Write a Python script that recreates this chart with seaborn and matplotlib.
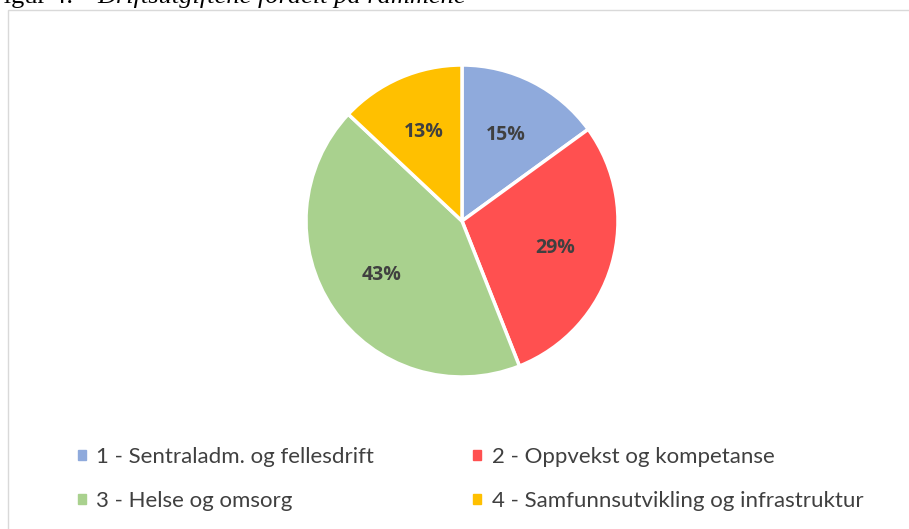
import numpy as np
import matplotlib.pyplot as plt
import matplotlib.patches as mpatches
import seaborn as sns

labels = ['1 - Sentraladm. og fellesdrift', '2 - Oppvekst og kompetanse',
          '3 - Helse og omsorg', '4 - Samfunnsutvikling og infrastruktur']
shares = [15, 29, 43, 13]
colors = ['#8FAADC', '#FF5050', '#A9D18E', '#FFC000']

sns.set_theme(style='white')
plt.rcParams['font.family'] = ['Lato', 'DejaVu Sans']

W, H = 909, 529
fig = plt.figure(figsize=(W / 100, H / 100), dpi=100)

# chart frame
fig.patches.append(mpatches.Rectangle((8 / W, -0.01), 1.0, (H - 10) / H + 0.01,
                                      transform=fig.transFigure, fill=False,
                                      edgecolor='#D9D9D9', linewidth=1))

# caption, cut at the top edge as in the source
fig.text(73 / W, 1 - 3 / H, 'Figur 4:', fontsize=19, family='Liberation Serif',
         va='baseline', ha='right', color='black')
fig.text(97 / W, 1 - 3 / H, 'Driftsutgiftene fordelt på rammene', fontsize=19,
         family='Liberation Serif', style='italic', va='baseline', ha='left', color='black')

r = 156
cx, cy = 462, 221
ax = fig.add_axes([(cx - r) / W, 1 - (cy + r) / H, 2 * r / W, 2 * r / H])
wedges, _ = ax.pie(shares, colors=colors, startangle=90, counterclock=False,
                   radius=1, wedgeprops=dict(edgecolor='white', linewidth=2.5))
ax.set_xlim(-1, 1)
ax.set_ylim(-1, 1)
ax.set_aspect('equal')

cum = np.cumsum([0] + shares)
for i, s in enumerate(shares):
    mid = 90 - 360 * (cum[i] + s / 2) / sum(shares)
    x = 0.62 * np.cos(np.radians(mid))
    y = 0.62 * np.sin(np.radians(mid))
    ax.text(x, y, f'{s}%', ha='center', va='center', fontsize=14, fontweight='bold',
            color='#404040', family=['Open Sans', 'DejaVu Sans'])

# legend fills row by row
order = [0, 2, 1, 3]
handles = [mpatches.Patch(color=colors[i]) for i in order]
fig.legend(handles, [labels[i] for i in order], ncol=2, loc='center left',
           bbox_to_anchor=(58 / W, 1 - 479 / H), frameon=False,
           fontsize=16, labelcolor='#404040', handlelength=0.36, handleheight=0.36,
           handletextpad=0.47, columnspacing=4.45, labelspacing=1.08)

fig.savefig('out.png', dpi=100)
